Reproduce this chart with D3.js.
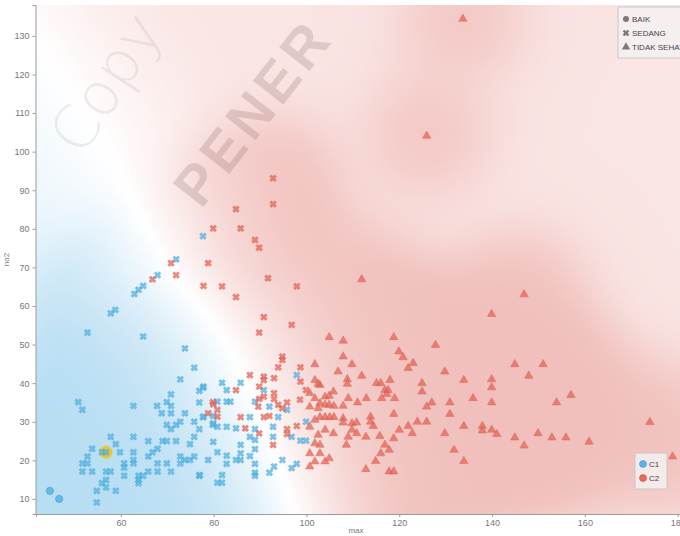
<!DOCTYPE html>
<html>
<head>
<meta charset="utf-8">
<script src="https://cdn.jsdelivr.net/npm/d3@7"></script>
<style>
  body { margin: 0; background: #fff; }
  svg { display: block; font-family: "Liberation Sans", Arial, sans-serif; }
</style>
</head>
<body>
<svg id="chart"></svg>
<script>
// ---- data (x = max, y = no2) ----
const xTicks = [60, 80, 100, 120, 140, 160, 180];
const yTicks = [10, 20, 30, 40, 50, 60, 70, 80, 90, 100, 110, 120, 130];
const shapeLabels = ["BAIK", "SEDANG", "TIDAK SEHAT"];
const clusterLabels = ["C1", "C2"];

// C1, shape BAIK
const c1Baik = [[44.7, 12.1], [46.7, 10.0]];

// C1, shape SEDANG
const c1Sedang = [
  [71.9, 72.1], [67.9, 68.0], [64.8, 65.2], [63.8, 64.2], [62.9, 63.1], [58.8, 59.0], [57.8, 58.1],
  [52.8, 53.1], [64.8, 52.1], [73.8, 49.0], [75.8, 44.0], [72.8, 41.0], [77.8, 39.1], [76.9, 38.0],
  [70.8, 37.1], [50.8, 35.1], [51.7, 33.1], [62.7, 34.1], [67.8, 34.1], [69.9, 35.1], [70.8, 34.1],
  [76.9, 35.0], [68.8, 32.2], [70.8, 32.2], [73.8, 32.2], [69.9, 29.2], [70.8, 28.1], [71.9, 29.2],
  [72.8, 30.0], [75.8, 30.0], [76.9, 28.1], [77.8, 31.3], [79.8, 29.2], [75.8, 26.1], [74.9, 24.2],
  [57.8, 26.1], [62.7, 26.1], [65.9, 25.0], [69.0, 25.0], [69.9, 25.0], [71.9, 25.0], [58.9, 24.2],
  [53.8, 23.0], [52.8, 21.0], [55.9, 22.1], [56.8, 22.1], [59.8, 22.1], [62.7, 22.1], [62.7, 20.1],
  [62.7, 19.2], [65.9, 21.0], [66.8, 22.1], [67.9, 23.0], [72.8, 21.0], [73.8, 20.1], [74.9, 20.1],
  [75.8, 21.0], [78.8, 20.1], [51.7, 19.2], [52.8, 19.2], [51.7, 17.1], [53.8, 17.1], [56.8, 17.1],
  [57.8, 17.1], [60.7, 19.2], [60.7, 18.1], [60.7, 16.0], [63.8, 16.0], [64.8, 16.0], [63.8, 14.9],
  [63.8, 14.1], [65.9, 17.1], [67.9, 19.2], [67.9, 17.1], [69.9, 19.2], [70.8, 17.1], [72.8, 19.2],
  [76.9, 16.0], [56.8, 14.9], [55.9, 14.1], [56.8, 13.0], [54.8, 12.1], [58.9, 12.1], [54.8, 9.1],
  [77.7, 78.1], [97.9, 42.1], [81.8, 40.1], [77.7, 38.8], [82.8, 38.2], [85.8, 40.1], [90.8, 38.2],
  [80.8, 35.2], [82.8, 35.2], [83.6, 35.2], [88.9, 35.2], [92.0, 33.9], [95.8, 33.1], [77.7, 31.2],
  [79.9, 31.5], [80.8, 28.7], [79.9, 29.6], [87.8, 31.2], [93.9, 31.2], [82.8, 28.7], [84.8, 28.3],
  [88.9, 28.1], [92.8, 28.7], [99.9, 30.0], [96.8, 26.1], [87.8, 26.1], [88.9, 25.3], [92.8, 26.1],
  [79.9, 24.8], [98.7, 25.1], [99.9, 25.1], [85.8, 24.0], [85.8, 21.8], [80.8, 22.1], [88.9, 22.9],
  [82.8, 21.2], [84.8, 20.1], [85.8, 20.1], [87.8, 21.1], [94.8, 20.1], [82.8, 19.1], [88.9, 19.1],
  [88.9, 16.8], [93.0, 18.4], [92.0, 16.8], [96.8, 18.0], [97.9, 19.1], [77.0, 16.2], [81.8, 16.2],
  [80.8, 14.2], [81.8, 14.2], [88.9, 16.0]
];

// C2, shape SEDANG
const c2Sedang = [
  [70.8, 71.1], [78.8, 71.1], [71.9, 68.0], [77.8, 65.2], [66.8, 66.9], [79.8, 35.1], [78.8, 32.2],
  [92.8, 93.1], [92.8, 86.4], [84.8, 85.1], [79.9, 80.1], [85.8, 80.1], [88.9, 77.1], [89.8, 75.1],
  [81.8, 65.1], [91.7, 67.2], [97.9, 65.1], [84.8, 62.3], [90.8, 57.1], [96.8, 55.1], [89.8, 53.1],
  [94.8, 46.9], [94.8, 46.0], [93.9, 44.1], [98.7, 44.1], [87.8, 42.1], [90.8, 41.7], [90.8, 40.8],
  [93.0, 41.3], [98.7, 40.4], [84.8, 38.2], [89.8, 39.1], [93.0, 37.4], [99.9, 38.2], [79.9, 34.5],
  [89.8, 35.9], [90.8, 36.5], [93.0, 35.9], [89.6, 33.9], [93.9, 34.4], [94.8, 33.5], [95.8, 35.0],
  [98.6, 35.7], [80.8, 33.1], [80.8, 31.3], [85.8, 31.2], [90.8, 31.2], [92.0, 31.5], [86.8, 28.3],
  [97.9, 28.9], [95.8, 28.1], [95.8, 26.8], [89.8, 27.0], [92.8, 24.0]
];

// C2, shape TIDAK SEHAT
const c2Tidak = [
  [133.7, 134.4], [125.9, 104.1], [104.9, 51.9], [111.9, 66.9], [139.9, 57.9], [146.9, 63.0],
  [107.9, 51.0], [118.8, 51.9], [127.8, 49.9], [107.9, 46.9], [109.8, 44.9], [119.9, 48.2],
  [120.8, 46.7], [123.0, 45.2], [121.9, 43.9], [106.8, 43.0], [111.9, 41.9], [129.8, 43.0],
  [133.9, 40.8], [139.9, 41.0], [139.9, 38.9], [108.8, 41.0], [108.8, 39.8], [115.1, 40.0],
  [116.0, 40.0], [118.0, 40.8], [124.9, 40.0], [124.9, 37.8], [102.9, 39.5], [105.8, 37.8],
  [104.0, 36.5], [104.9, 36.7], [116.9, 38.2], [117.6, 38.2], [117.3, 37.2], [116.2, 36.1],
  [119.0, 36.1], [109.0, 36.1], [112.9, 36.1], [111.0, 35.0], [102.9, 34.8], [104.0, 34.4],
  [104.9, 34.4], [105.9, 34.1], [107.9, 34.1], [127.0, 35.0], [125.9, 33.9], [130.9, 35.0],
  [135.9, 36.1], [139.9, 35.0], [130.9, 32.0], [118.8, 32.0], [102.9, 31.2], [104.0, 31.2],
  [105.0, 31.2], [105.9, 31.2], [107.9, 30.9], [107.9, 29.8], [109.8, 29.6], [110.8, 29.8],
  [113.8, 31.3], [113.8, 30.0], [114.4, 28.9], [123.9, 30.0], [125.9, 30.0], [121.9, 28.9],
  [120.0, 27.9], [133.9, 28.9], [137.9, 28.9], [137.9, 27.7], [139.9, 27.9], [141.0, 26.8],
  [104.0, 27.9], [105.8, 27.0], [109.8, 27.9], [110.8, 27.0], [109.0, 26.1], [112.8, 26.1],
  [115.8, 26.3], [122.8, 27.0], [118.8, 25.7], [129.8, 27.0], [102.9, 24.0], [108.6, 24.0],
  [116.9, 24.0], [117.8, 22.7], [116.0, 21.8], [131.8, 22.7], [102.9, 21.8], [104.9, 20.5],
  [104.0, 19.7], [114.9, 19.8], [133.9, 19.8], [112.8, 17.7], [117.8, 17.1], [118.8, 17.1],
  [144.9, 44.9], [151.0, 44.9], [147.9, 41.9], [157.0, 36.9], [153.9, 35.0], [174.0, 29.9],
  [144.9, 25.9], [146.9, 23.8], [149.9, 27.0], [152.9, 25.9], [155.9, 25.9], [160.9, 24.8],
  [178.9, 21.0], [101.8, 44.9], [101.8, 40.8], [102.5, 39.8], [100.7, 37.4], [101.8, 36.1],
  [100.7, 33.9], [102.5, 33.5], [101.8, 30.5], [100.7, 28.7], [102.5, 26.6], [101.8, 24.4],
  [100.7, 21.8], [101.8, 19.7], [100.7, 18.4]
];

// selected point (yellow halo)
const highlighted = [[56.8, 22.1]];

// ---- layout ----
const W = 680, H = 536;
const margin = { top: 5, left: 36, right: 0, bottom: 22 };
const pw = W - margin.left - margin.right;
const ph = H - margin.top - margin.bottom;

const blue = "#56b6e6", blueDark = "#3a9ad0";
const red = "#e8695c", redDark = "#d24e40";
const blueBg = [184, 222, 243], redBg = [241, 192, 188];

const svg = d3.select("#chart").attr("width", W).attr("height", H);

const xScale = d3.scaleLinear().domain([41.7, 180.5]).range([0, pw]);
const yScale = d3.scaleLinear().domain([6.1, 138]).range([ph, 0]);

const chart = svg.append("g").attr("transform", `translate(${margin.left},${margin.top})`);

// ---- class density background ----
const pts = [];
function addPts(arr, cls) { arr.forEach(d => pts.push([xScale(d[0]), yScale(d[1]), cls])); }
addPts(c1Baik, 0); addPts(c1Sedang, 0); addPts(highlighted, 0);
addPts(c2Sedang, 1); addPts(c2Tidak, 1);

const step = 4;
const gw = Math.ceil(pw / step), gh = Math.ceil(ph / step);
const canvas = document.createElement("canvas");
canvas.width = gw; canvas.height = gh;
const ctx = canvas.getContext("2d");
const img = ctx.createImageData(gw, gh);
const s1 = 2 * 55 * 55, s2 = 2 * 40 * 40;
for (let j = 0; j < gh; j++) {
  for (let i = 0; i < gw; i++) {
    const cx = (i + 0.5) * step, cy = (j + 0.5) * step;
    let wB = 0, wR = 0, dens = 0;
    for (const p of pts) {
      const dx = p[0] - cx, dy = p[1] - cy, d2 = dx * dx + dy * dy;
      const e = Math.exp(-d2 / s1);
      if (p[2]) wR += e; else wB += e;
      if (d2 < 12 * s2) dens += Math.exp(-d2 / s2);
    }
    const pr = (wR - wB) / (wR + wB + 1e-300);
    const fade = 0.42 + 0.58 * (1 - Math.exp(-dens / 0.8));
    const a = Math.min(1, Math.abs(pr)) * fade;
    const col = pr > 0 ? redBg : blueBg;
    const k = (j * gw + i) * 4;
    img.data[k] = 255 + (col[0] - 255) * a;
    img.data[k + 1] = 255 + (col[1] - 255) * a;
    img.data[k + 2] = 255 + (col[2] - 255) * a;
    img.data[k + 3] = 255;
  }
}
ctx.putImageData(img, 0, 0);
chart.append("image")
  .attr("width", pw).attr("height", ph)
  .attr("preserveAspectRatio", "none")
  .attr("href", canvas.toDataURL());

// ---- watermark (only the part that shows) ----
svg.append("text")
  .attr("transform", "translate(82,158) rotate(-57)")
  .attr("font-family", "DejaVu Sans, sans-serif")
  .attr("font-size", 60).attr("font-weight", 200)
  .attr("fill", "rgba(140,125,125,0.14)")
  .text("Copy");
svg.append("text")
  .attr("transform", "translate(201,210) rotate(-52)")
  .attr("font-size", 56).attr("font-weight", "bold")
  .attr("letter-spacing", 5)
  .attr("fill", "rgba(120,85,85,0.2)")
  .text("PENER");

// ---- axes ----
const xAxis = d3.axisBottom(xScale).tickValues(xTicks).tickSize(3).tickPadding(3);
const yAxis = d3.axisLeft(yScale).tickValues(yTicks).tickSize(3).tickPadding(3);

const xAxisG = chart.append("g").attr("transform", `translate(0,${ph})`).call(xAxis);
const yAxisG = chart.append("g").attr("transform", "translate(-0.5,0)").call(yAxis);
[xAxisG, yAxisG].forEach(g => {
  g.select(".domain").attr("stroke", "#9a9a9a");
  g.selectAll(".tick line").attr("stroke", "#9a9a9a");
  g.selectAll(".tick text").attr("fill", "#777").attr("font-size", 9)
    .attr("font-family", "Liberation Sans, Arial, sans-serif");
});

svg.append("text")
  .attr("x", margin.left + pw / 2 - 2).attr("y", 533)
  .attr("text-anchor", "middle").attr("font-size", 8).attr("fill", "#777")
  .text("max");
svg.append("text")
  .attr("transform", `translate(9,${margin.top + ph / 2}) rotate(-90)`)
  .attr("text-anchor", "middle").attr("font-size", 8).attr("fill", "#777")
  .text("no2");

// ---- points ----
const crossD = d3.symbol().type(d3.symbolCross).size(28)();
const triD = d3.symbol().type(d3.symbolTriangle).size(30)();

const pointsG = chart.append("g");

pointsG.selectAll(".hl").data(highlighted).join("circle")
  .attr("cx", d => xScale(d[0])).attr("cy", d => yScale(d[1]))
  .attr("r", 6.5).attr("fill", "#f3c20f").attr("opacity", 0.85);

pointsG.selectAll(".c1b").data(c1Baik).join("circle")
  .attr("cx", d => xScale(d[0])).attr("cy", d => yScale(d[1]))
  .attr("r", 3.6).attr("fill", blue).attr("stroke", blueDark).attr("stroke-width", 0.7)
  .attr("opacity", 0.85);

function drawCross(data, fill, stroke) {
  pointsG.append("g").selectAll("path").data(data).join("path")
    .attr("d", crossD)
    .attr("transform", d => `translate(${xScale(d[0])},${yScale(d[1])}) rotate(45)`)
    .attr("fill", fill).attr("stroke", stroke).attr("stroke-width", 0.5)
    .attr("opacity", 0.78);
}
drawCross(c1Sedang, blue, blueDark);
drawCross(c2Sedang, red, redDark);

pointsG.append("g").selectAll("path").data(c2Tidak).join("path")
  .attr("d", triD)
  .attr("transform", d => `translate(${xScale(d[0])},${yScale(d[1])})`)
  .attr("fill", red).attr("stroke", redDark).attr("stroke-width", 0.5)
  .attr("opacity", 0.78);

// ---- shape legend (top right) ----
const lg1 = svg.append("g").attr("transform", "translate(618,7)");
lg1.append("rect").attr("width", 80).attr("height", 51)
  .attr("fill", "rgba(244,241,241,0.85)").attr("stroke", "#c8c8c8");
shapeLabels.forEach((lab, i) => {
  const y = 12 + i * 14;
  let m;
  if (i === 0) m = lg1.append("circle").attr("cx", 8).attr("cy", y).attr("r", 3);
  else if (i === 1) m = lg1.append("path").attr("d", crossD).attr("transform", `translate(8,${y}) rotate(45)`);
  else m = lg1.append("path").attr("d", triD).attr("transform", `translate(8,${y})`);
  m.attr("fill", "#7a7a7a");
  lg1.append("text").attr("x", 14).attr("y", y + 3)
    .attr("font-size", 8).attr("fill", "#444").text(lab);
});

// ---- cluster legend (bottom right) ----
const lg2 = svg.append("g").attr("transform", "translate(635,453)");
lg2.append("rect").attr("width", 32).attr("height", 36)
  .attr("fill", "rgba(244,241,241,0.85)").attr("stroke", "#c8c8c8");
clusterLabels.forEach((lab, i) => {
  const y = 11 + i * 14;
  lg2.append("circle").attr("cx", 8).attr("cy", y).attr("r", 3.5)
    .attr("fill", i ? red : blue).attr("stroke", i ? redDark : blueDark).attr("stroke-width", 0.6);
  lg2.append("text").attr("x", 14).attr("y", y + 3)
    .attr("font-size", 8).attr("fill", "#444").text(lab);
});
</script>
</body>
</html>
